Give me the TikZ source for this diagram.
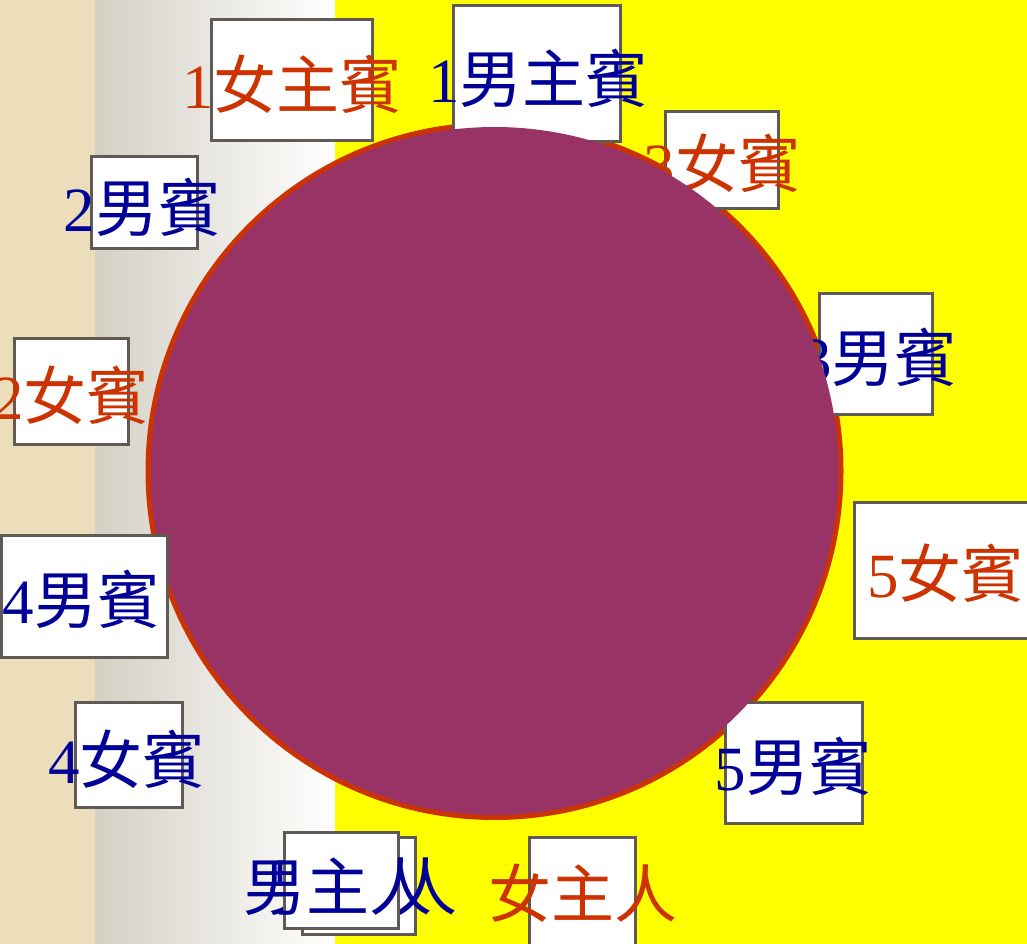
\documentclass[tikz,border=0pt]{standalone}
\usepackage{fontspec}
\setmainfont{Liberation Serif}
\newfontfamily\cjk{Noto Sans CJK TC}
\usetikzlibrary{positioning}

\definecolor{paper}{RGB}{236,222,186}
\definecolor{gradgray}{RGB}{212,208,196}
\definecolor{bgyellow}{RGB}{255,255,0}
\definecolor{tablepurple}{HTML}{993366}
\definecolor{tablerim}{HTML}{CC3300}
\definecolor{femred}{HTML}{CC3300}
\definecolor{malblue}{HTML}{000099}
\definecolor{seatgray}{RGB}{95,90,85}

\begin{document}
\begin{tikzpicture}[x=1pt, y=-1pt,
	seat/.style={draw=seatgray, line width=3pt, fill=white, inner sep=0pt},
	ftext/.style={text=femred, inner sep=0pt, font=\fontsize{63}{70}\selectfont},
	mtext/.style={text=malblue, inner sep=0pt, font=\fontsize{63}{70}\selectfont}]
	\useasboundingbox (0,0) rectangle (1027,944);
	
	% background
	\fill[paper] (0,0) rectangle (95,944);
	\shade[left color=gradgray, right color=white] (95,0) rectangle (335,944);
	\fill[bgyellow] (335,0) rectangle (1027,944);
	
	% table rim
	\fill[tablerim] (494.5,471) circle (349);
	
	% seats under the table
	\node[seat, minimum width=167, minimum height=136] (mhgbox) at (536.5,74) {};
	\node[mtext] (mhg) at (538.5,78) {1\cjk 男主賓};
	\node[seat, minimum width=113, minimum height=96] (fg3box) at (721.5,160) {};
	\node[ftext] (fg3) at (722.5,163) {3\cjk 女賓};
	\node[seat, minimum width=113, minimum height=121] (mg3box) at (875.5,353.5) {};
	\node[mtext] (mg3) at (879,357.5) {3\cjk 男賓};
	\node[seat, minimum width=137, minimum height=121] (mg5box) at (793.5,762.5) {};
	
	% table
	\fill[tablepurple] (494.5,471) circle (344);
	
	\node[mtext] (mg5) at (793.5,766.5) {5\cjk 男賓};
	
	% seats in front
	\node[seat, minimum width=161, minimum height=121] (fhgbox) at (291.5,80.5) {};
	\node[ftext] (fhg) at (292.5,84) {1\cjk 女主賓};
	\node[seat, minimum width=106, minimum height=91] (mg2box) at (144,202.5) {};
	\node[mtext] (mg2) at (142.5,207) {2\cjk 男賓};
	\node[seat, minimum width=114, minimum height=106] (fg2box) at (71,391) {};
	\node[ftext] (fg2) at (71,395) {2\cjk 女賓};
	\node[seat, minimum width=166, minimum height=122] (mg4box) at (84,596) {};
	\node[mtext] (mg4) at (81.5,599) {4\cjk 男賓};
	\node[seat, minimum width=107, minimum height=105] (fg4box) at (128.5,754.5) {};
	\node[mtext] (fg4) at (127,759) {4\cjk 女賓};
	\node[seat, minimum width=186, minimum height=136] (fg5box) at (947,570) {};
	\node[ftext] (fg5) at (946,573) {5\cjk 女賓};
	
	% hosts
	\node[seat, minimum width=113, minimum height=97] (mhboxb) at (358.5,885.5) {};
	\node[mtext] (mhb) at (362.5,887) {\cjk 男主人};
	\node[seat, minimum width=114, minimum height=96] (mhbox) at (341,880) {};
	\node[mtext] (mh) at (337.5,887) {\cjk 男主人};
	\node[seat, minimum width=106, minimum height=118] (fhbox) at (582,896) {};
	\node[ftext] (fh) at (582.5,893.5) {\cjk 女主人};
\end{tikzpicture}
\end{document}
